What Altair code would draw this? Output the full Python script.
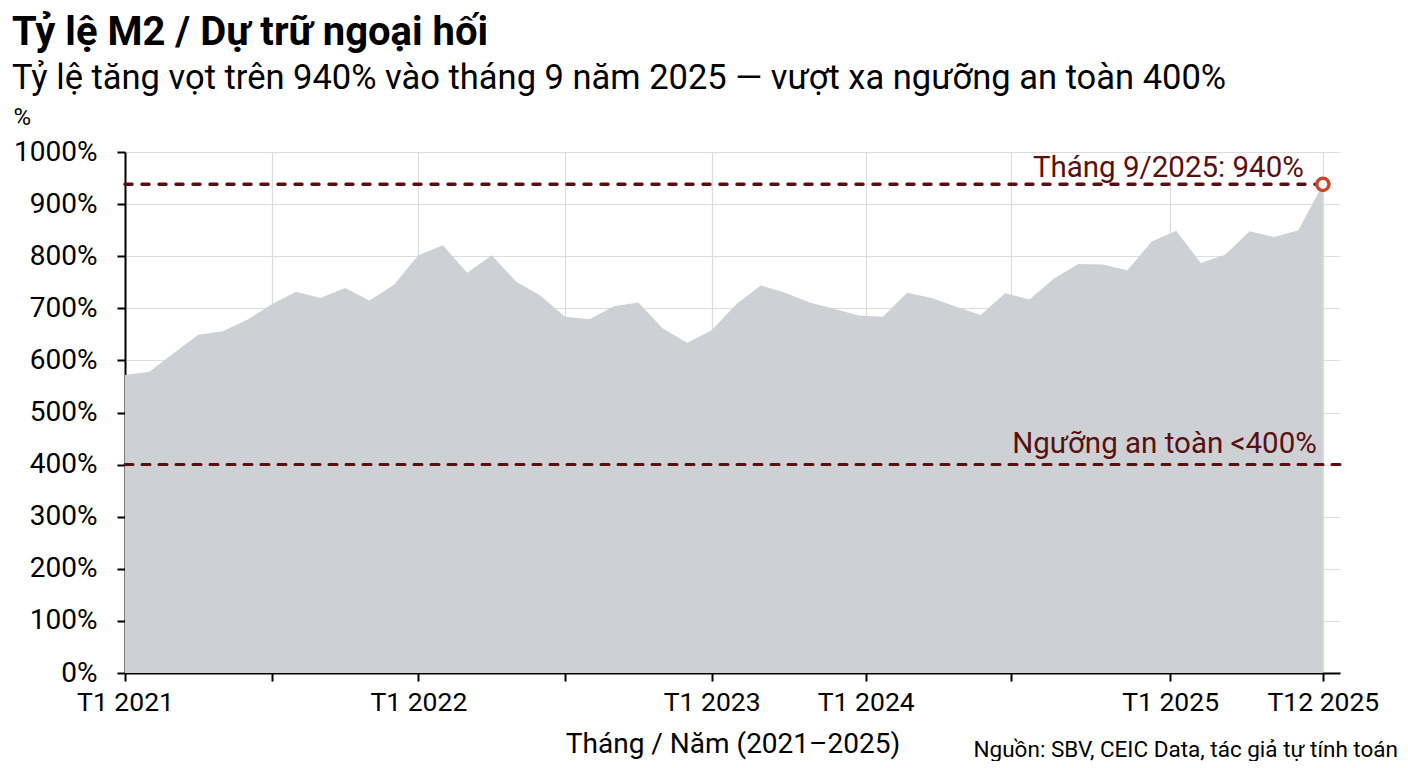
import altair as alt
import pandas as pd

# ---- data ----
IDX = list(range(50))
RATIO = [572, 578, 614, 649, 656, 678, 708, 732, 720, 739,
         715, 745, 802, 821, 768, 802, 751, 724, 684, 679,
         704, 711, 661, 634, 658, 708, 744, 730, 711, 699,
         686, 684, 730, 720, 703, 687, 729, 717, 757, 785,
         784, 773, 828, 849, 787, 803, 848, 837, 850, 938]

TICK_POS = [0, 6, 12, 18, 24, 30.3, 36.25, 42.75, 49]
TICK_LABELS = ["T1 2021", "", "T1 2022", "", "T1 2023", "T1 2024", "", "T1 2025", "T12 2025"]
Y_TICKS = [0, 100, 200, 300, 400, 500, 600, 700, 800, 900, 1000]

PEAK_IDX = 49
PEAK_VAL = 938
SAFE_VAL = 400
PEAK_LABEL = "Tháng 9/2025: 940%"
SAFE_LABEL = "Ngưỡng an toàn <400%"

TITLE = "Tỷ lệ M2 / Dự trữ ngoại hối"
SUBTITLE = "Tỷ lệ tăng vọt trên 940% vào tháng 9 năm 2025 — vượt xa ngưỡng an toàn 400%"
X_TITLE = "Tháng / Năm (2021–2025)"
Y_TITLE = "%"
SOURCE = "Nguồn: SBV, CEIC Data, tác giả tự tính toán"

W, H = 1215, 521
FONT = "Roboto"
MAROON = "#5a0f0f"

df = pd.DataFrame({"idx": IDX, "value": RATIO})

label_map = "{" + ",".join(f"'{p}':'{l}'" for p, l in zip(TICK_POS, TICK_LABELS)) + "}"

x_enc = alt.X(
    "idx:Q",
    scale=alt.Scale(domain=[0, 49.7], nice=False, zero=False),
    axis=alt.Axis(
        values=TICK_POS,
        labelExpr=f"{label_map}['' + datum.value]",
        title=X_TITLE,
        grid=True,
        labelFlush=False,
        labelOverlap=False,
        labelBound=False,
        labelPadding=8,
        labelFontSize=26.5,
        titlePadding=15,
    ),
)
y_enc = alt.Y(
    "value:Q",
    scale=alt.Scale(domain=[0, 1000], nice=False),
    axis=alt.Axis(
        values=Y_TICKS,
        labelExpr="datum.value + '%'",
        title=Y_TITLE,
        titleAngle=0,
        titleAlign="left",
        titleBaseline="alphabetic",
        titleX=-112,
        titleY=-28,
        titleFontSize=24,
        grid=True,
        labelPadding=20,
        labelFontSize=28,
    ),
)

area = alt.Chart(df).mark_area(color="#cdd1d5", opacity=1).encode(x=x_enc, y=y_enc)

rule_peak = alt.Chart(pd.DataFrame({"x": [0], "x2": [PEAK_IDX], "y": [PEAK_VAL]})).mark_rule(
    color=MAROON, strokeWidth=3.5, strokeDash=[7, 10], strokeCap="round"
).encode(x="x:Q", x2="x2:Q", y="y:Q")

rule_safe = alt.Chart(pd.DataFrame({"y": [SAFE_VAL]})).mark_rule(
    color=MAROON, strokeWidth=3, strokeDash=[8, 9], strokeCap="round"
).encode(y="y:Q")

peak_pt = alt.Chart(pd.DataFrame({"x": [PEAK_IDX], "y": [PEAK_VAL]})).mark_point(
    shape="circle", size=150, filled=True, fill="white", stroke="#c8462c", strokeWidth=3.5, opacity=1
).encode(x="x:Q", y="y:Q")

peak_txt = alt.Chart(pd.DataFrame({"x": [PEAK_IDX], "y": [PEAK_VAL], "t": [PEAK_LABEL]})).mark_text(
    align="right", baseline="alphabetic", dx=-19, dy=-7, font=FONT, fontSize=29.5, color=MAROON
).encode(x="x:Q", y="y:Q", text="t:N")

safe_txt = alt.Chart(pd.DataFrame({"x": [PEAK_IDX], "y": [SAFE_VAL], "t": [SAFE_LABEL]})).mark_text(
    align="right", baseline="alphabetic", dx=-6, dy=-12, font=FONT, fontSize=29.5, color=MAROON
).encode(x="x:Q", y="y:Q", text="t:N")

source_txt = alt.Chart(pd.DataFrame({"t": [SOURCE]})).mark_text(
    align="right", baseline="alphabetic", font=FONT, fontSize=22.5, color="black"
).encode(x=alt.value(W + 58), y=alt.value(H + 84), text="t:N")

chart = alt.layer(area, rule_safe, rule_peak, peak_pt, peak_txt, safe_txt, source_txt).properties(
    width=W,
    height=H,
    autosize=alt.AutoSizeParams(type="none"),
    padding={"left": 117, "top": 144, "right": 60, "bottom": 88},
    title=alt.TitleParams(
        text=TITLE,
        subtitle=SUBTITLE,
        anchor="start",
        frame="group",
        dx=-113,
        font=FONT,
        fontSize=40,
        fontWeight="bold",
        color="black",
        subtitleFont=FONT,
        subtitleFontSize=34.5,
        subtitleColor="black",
        subtitlePadding=9,
        offset=10,
    ),
).configure_view(stroke=None).configure_axis(
    domainColor="black",
    domainWidth=2,
    tickColor="black",
    tickWidth=2,
    tickSize=8,
    gridColor="#dcdcdc",
    gridWidth=1.2,
    labelFont=FONT,
    labelColor="black",
    titleFont=FONT,
    titleFontSize=28,
    titleFontWeight="normal",
    titleColor="black",
)

chart.save("out.html", embed_options={"renderer": "svg", "actions": False})
